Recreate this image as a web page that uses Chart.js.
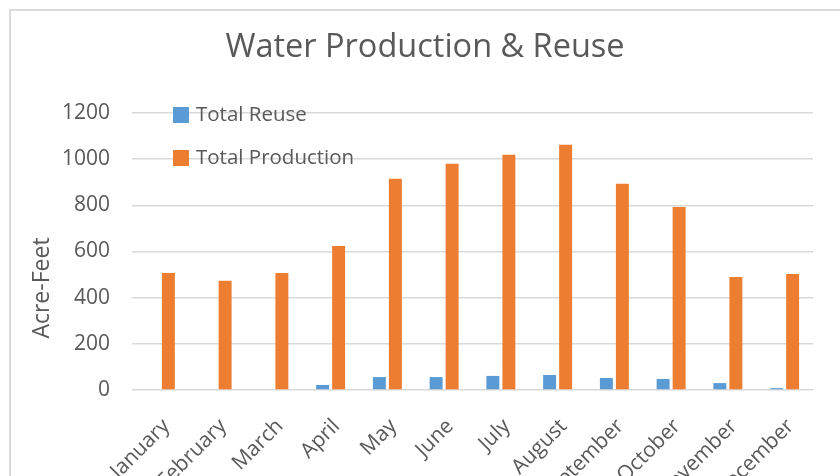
<!DOCTYPE html>
<html>
<head>
<meta charset="utf-8">
<script src="https://cdn.jsdelivr.net/npm/chart.js@4"></script>
<style>
  html, body { margin: 0; padding: 0; background: #fff; overflow: hidden; }
</style>
</head>
<body>
<canvas id="waterChart" width="840" height="476"></canvas>
<script>
const months = ['January', 'February', 'March', 'April', 'May', 'June', 'July', 'August', 'September', 'October', 'November', 'December'];
const reuseData = [0, 0, 0, 22, 56, 56, 61, 65, 52, 48, 30, 8];
const productionData = [507, 473, 507, 624, 915, 980, 1019, 1062, 893, 793, 490, 503];
const yTicks = [0, 200, 400, 600, 800, 1000, 1200];
const yTitle = 'Acre-Feet';

const textColor = '#595959';
const gridColor = '#d9d9d9';
const fontFamily = "'Open Sans', 'Liberation Sans', sans-serif";

// frame line round the chart (only top and left show in the picture)
const framePlugin = {
    id: 'frame',
    beforeDraw(chart) {
        const ctx = chart.ctx;
        ctx.save();
        ctx.fillStyle = '#fff';
        ctx.fillRect(0, 0, chart.width, chart.height);
        ctx.strokeStyle = gridColor;
        ctx.lineWidth = 2;
        ctx.strokeRect(10, 10, chart.width + 40, chart.height + 40);
        // axis title sits lower than the plot centre in the original
        ctx.fillStyle = textColor;
        ctx.font = '23px ' + fontFamily;
        ctx.textAlign = 'center';
        ctx.textBaseline = 'middle';
        ctx.translate(42, 288);
        ctx.rotate(-Math.PI / 2);
        ctx.fillText(yTitle, 0, 0);
        ctx.restore();
    }
};

// legend sits inside the plot, top left
const insideLegend = {
    id: 'insideLegend',
    afterDraw(chart) {
        const ctx = chart.ctx;
        ctx.save();
        ctx.font = '20.5px ' + fontFamily;
        ctx.textBaseline = 'middle';
        chart.data.datasets.forEach((ds, i) => {
            const y = 115 + i * 43;
            ctx.fillStyle = ds.backgroundColor;
            ctx.fillRect(173, y - 8, 16, 16);
            ctx.fillStyle = textColor;
            ctx.fillText(ds.label, 196, y);
        });
        ctx.restore();
    }
};

new Chart(document.getElementById('waterChart'), {
    type: 'bar',
    data: {
        labels: months,
        datasets: [
            { label: 'Total Reuse', data: reuseData, backgroundColor: '#5b9bd5' },
            { label: 'Total Production', data: productionData, backgroundColor: '#ed7d31' }
        ]
    },
    options: {
        responsive: false,
        animation: false,
        layout: { padding: { left: 37, right: 27, top: 0, bottom: 0 } },
        datasets: {
            bar: { categoryPercentage: 0.564, barPercentage: 0.81 }
        },
        plugins: {
            legend: { display: false },
            tooltip: { enabled: false },
            title: {
                display: true,
                text: 'Water Production & Reuse',
                color: textColor,
                font: { family: fontFamily, size: 32.5, weight: 'normal', lineHeight: 1.2 },
                padding: { top: 28, bottom: 46 }
            }
        },
        scales: {
            x: {
                grid: { display: false },
                border: { display: false },
                ticks: {
                    color: textColor,
                    font: { family: fontFamily, size: 21 },
                    minRotation: 45,
                    maxRotation: 45,
                    autoSkip: false,
                    padding: 16,
                    labelOffset: 6
                },
                afterFit(scale) { scale.height = 86; }
            },
            y: {
                min: 0,
                max: 1200,
                afterBuildTicks(scale) { scale.ticks = yTicks.map(v => ({ value: v })); },
                grid: { color: gridColor, lineWidth: 1.5, drawTicks: false },
                border: { display: false },
                ticks: {
                    color: textColor,
                    font: { family: fontFamily, size: 21 },
                    padding: 22,
                    callback: (v) => String(v)
                },
                afterFit(scale) { scale.width = 95; }
            }
        }
    },
    plugins: [framePlugin, insideLegend]
});
</script>
</body>
</html>
